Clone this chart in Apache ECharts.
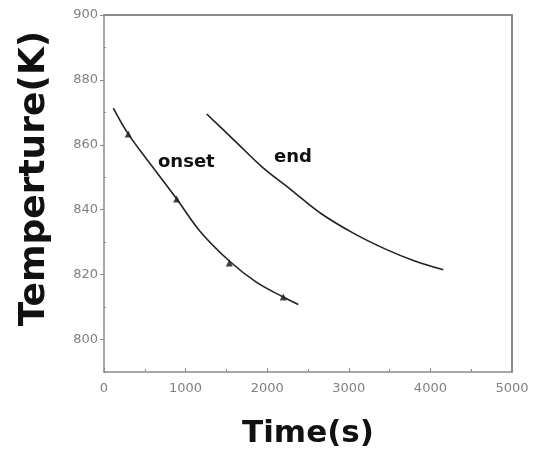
<!DOCTYPE html>
<html>
<head>
<meta charset="utf-8">
<script src="https://cdn.jsdelivr.net/npm/echarts@6/dist/echarts.min.js"></script>
<style>
  html, body { margin: 0; padding: 0; background: #fff; }
  #chart { width: 544px; height: 450px; }
</style>
</head>
<body>
<div id="chart"></div>
<script>
// curve
var onsetTime = [114, 298, 592, 891, 1176, 1536, 1871, 2197, 2381];
var onsetTemp = [871.3, 863.3, 853.3, 843.3, 833.4, 824.2, 817.6, 813.1, 810.8];
// measured points on the onset curve
var onsetMarkTime = [298, 891, 1536, 2197];
var onsetMarkTemp = [863.3, 843.3, 823.6, 813.1];
var endTime = [1258, 1600, 1932, 2300, 2650, 3055, 3464, 3800, 4158];
var endTemp = [869.5, 861.3, 853.3, 846, 839, 832.8, 827.7, 824.3, 821.5];

var yTicks = [800, 820, 840, 860, 880, 900];
var yMinorTicks = [790, 810, 830, 850, 870, 890];

function pairs(xs, ys) {
  return xs.map(function (x, i) { return [x, ys[i]]; });
}

var axisGray = "#8a8a8a";
var labelGray = "#808080";

var myChart = echarts.init(document.getElementById("chart"));
myChart.setOption({
  animation: false,
  grid: { left: 104, right: 32, top: 15, bottom: 78, outerBoundsMode: "none", containLabel: false },
  xAxis: [
    {
      type: "value",
      min: 0,
      max: 5000,
      interval: 1000,
      name: "Time(s)",
      nameLocation: "middle",
      nameGap: 46,
      nameTextStyle: { fontFamily: "DejaVu Sans", fontWeight: "bold", fontSize: 31, color: "#111" },
      splitLine: { show: false },
      axisLine: { lineStyle: { color: axisGray, width: 1.5 } },
      axisTick: { inside: true, length: 4, lineStyle: { color: axisGray } },
      minorTick: { show: true, splitNumber: 2, length: 3, lineStyle: { color: axisGray } },
      axisLabel: {
        margin: 10, color: labelGray, fontFamily: "DejaVu Sans", fontSize: 13,
        formatter: function (v) { return String(v); }
      }
    },
    {
      type: "value",
      position: "top",
      min: 0,
      max: 5000,
      splitLine: { show: false },
      axisLine: { lineStyle: { color: axisGray, width: 2 } },
      axisTick: { show: false },
      axisLabel: { show: false }
    }
  ],
  yAxis: [
    {
      type: "value",
      min: 790,
      max: 900,
      name: "Temperture(K)",
      nameLocation: "middle",
      nameRotate: 90,
      nameGap: 51,
      nameTextStyle: {
        fontFamily: "DejaVu Sans", fontWeight: "bold", fontSize: 36, color: "#111",
        padding: [0, 0, 0, 30]
      },
      splitLine: { show: false },
      axisLine: { lineStyle: { color: axisGray, width: 1.5 } },
      axisTick: { length: 4, customValues: yTicks, lineStyle: { color: axisGray } },
      axisLabel: { margin: 6, customValues: yTicks, color: labelGray, fontFamily: "DejaVu Sans", fontSize: 13 }
    },
    {
      type: "value",
      min: 790,
      max: 900,
      splitLine: { show: false },
      axisLine: { show: false },
      axisTick: { length: 2, customValues: yMinorTicks, lineStyle: { color: axisGray } },
      axisLabel: { show: false, customValues: yMinorTicks }
    },
    {
      type: "value",
      position: "right",
      min: 790,
      max: 900,
      splitLine: { show: false },
      axisLine: { show: true, lineStyle: { color: axisGray, width: 2 } },
      axisTick: { show: false },
      axisLabel: { show: false }
    }
  ],
  series: [
    {
      name: "onset",
      type: "line",
      smooth: 0.35,
      showSymbol: false,
      data: pairs(onsetTime, onsetTemp),
      lineStyle: { color: "#222", width: 1.6 }
    },
    {
      name: "onset points",
      type: "scatter",
      symbol: "triangle",
      symbolSize: 7,
      data: pairs(onsetMarkTime, onsetMarkTemp),
      itemStyle: { color: "#111" }
    },
    {
      name: "end",
      type: "line",
      smooth: 0.35,
      showSymbol: false,
      data: pairs(endTime, endTemp),
      lineStyle: { color: "#222", width: 1.6 }
    }
  ],
  graphic: [
    {
      type: "text",
      left: 158,
      top: 153,
      style: { text: "onset", fontFamily: "DejaVu Sans", fontWeight: "bold", fontSize: 18, fill: "#111" }
    },
    {
      type: "text",
      left: 274,
      top: 148,
      style: { text: "end", fontFamily: "DejaVu Sans", fontWeight: "bold", fontSize: 18, fill: "#111" }
    }
  ]
});
</script>
</body>
</html>
